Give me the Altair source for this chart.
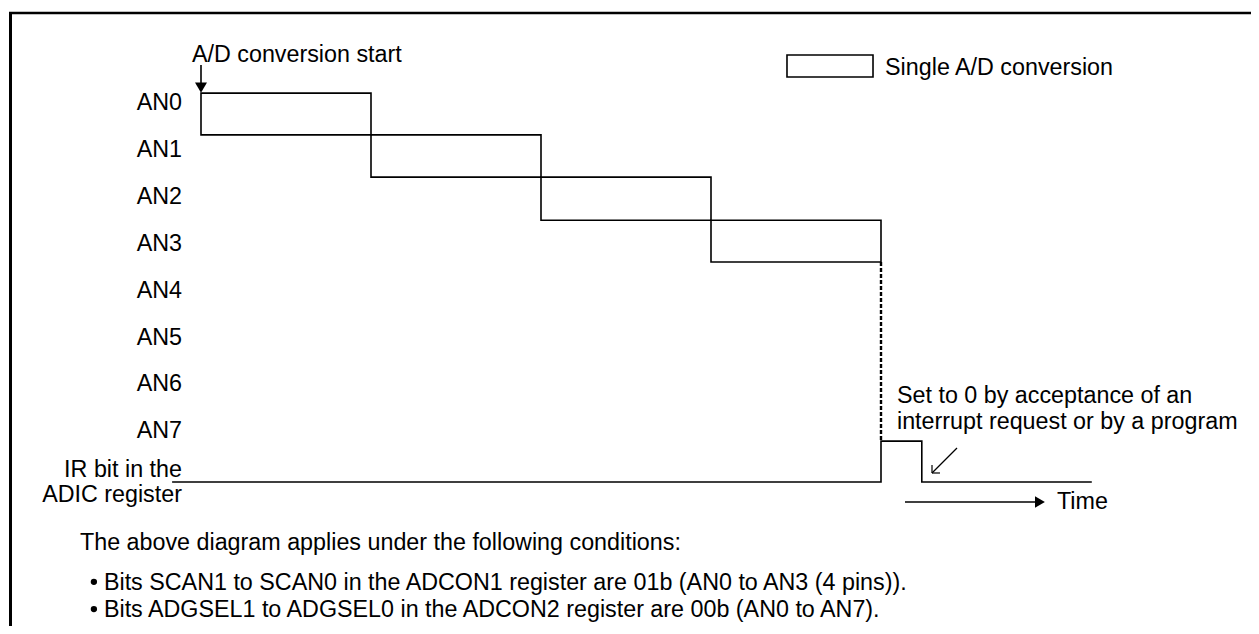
import altair as alt
import pandas as pd

# ---------------- data ----------------
channels = ["AN0", "AN1", "AN2", "AN3", "AN4", "AN5", "AN6", "AN7"]
scanned = ["AN0", "AN1", "AN2", "AN3"]
conv_start = [0, 1, 2, 3]          # conversion periods (time units)
conv_end = [1, 2, 3, 4]
stair_top = [-0.21, 0.68, 1.58, 2.50]   # level of each conversion box (row units)
stair_bottom = [0.68, 1.58, 2.50, 3.39]
ir_label = ["IR bit in the", "ADIC register"]
ir_times = [-0.17, 4.0, 4.0, 4.24, 4.24, 5.24]
ir_levels = [8.08, 8.08, 7.21, 7.21, 8.08, 8.08]
start_label = "A/D conversion start"
legend_label = "Single A/D conversion"
note_lines = ["Set to 0 by acceptance of an", "interrupt request or by a program"]
time_label = "Time"
conditions_title = "The above diagram applies under the following conditions:"
conditions = [
    "Bits SCAN1 to SCAN0 in the ADCON1 register are 01b (AN0 to AN3 (4 pins)).",
    "Bits ADGSEL1 to ADGSEL0 in the ADCON2 register are 00b (AN0 to AN7).",
]

# ---------------- scales ----------------
W, H = 1243, 618
T0, PT = 193.0, 170.0     # chart px of t=0, px per time unit
R0, PR = 95.0, 46.9       # chart px of row 0, px per row
xs = alt.Scale(domain=[-T0 / PT, (W - T0) / PT], nice=False, zero=False)
ys = alt.Scale(domain=[-R0 / PR, (H - R0) / PR], nice=False, zero=False, reverse=True)
FONT = "Liberation Sans"
FS = 23.3
LW = 1.6


def X(f="t"):
    return alt.X(f"{f}:Q", scale=xs, axis=None)


def Y(f="r"):
    return alt.Y(f"{f}:Q", scale=ys, axis=None)


def txt_layer(df, align="left"):
    return alt.Chart(df).mark_text(align=align, baseline="middle", font=FONT,
                                   fontSize=FS, color="black").encode(
        x=X("t"), y=Y("r"), text="txt:N")


# staircase of conversions
df_st = pd.DataFrame({"ch": scanned, "t": conv_start, "t2": conv_end,
                      "r": stair_top, "r2": stair_bottom})
stairs = alt.Chart(df_st).mark_rect(fillOpacity=0, stroke="black", strokeWidth=LW).encode(
    x=X("t"), x2="t2:Q", y=Y("r"), y2="r2:Q")

# channel labels
df_lab = pd.DataFrame({"txt": channels, "t": [-0.112] * len(channels),
                       "r": list(range(len(channels)))})
df_lab = pd.concat([df_lab, pd.DataFrame({"txt": ir_label, "t": [-0.112, -0.112],
                                          "r": [7.83, 8.36]})], ignore_index=True)
labels = txt_layer(df_lab, align="right")

# IR bit signal
df_ir = pd.DataFrame({"t": ir_times, "r": ir_levels, "i": list(range(len(ir_times)))})
ir = alt.Chart(df_ir).mark_line(color="black", strokeWidth=LW, strokeJoin="miter").encode(
    x=X("t"), y=Y("r"), order="i:Q")

# dashed link from end of last conversion to IR rise
df_dot = pd.DataFrame({"t": [4.0], "r": [3.39], "r2": [7.21]})
dotted = alt.Chart(df_dot).mark_rule(color="black", strokeWidth=2.4, strokeDash=[4, 2]).encode(
    x=X("t"), y=Y("r"), y2="r2:Q")

# start arrow
df_sa = pd.DataFrame({"t": [0.0], "r": [-0.81], "r2": [-0.40]})
start_line = alt.Chart(df_sa).mark_rule(color="black", strokeWidth=LW).encode(
    x=X("t"), y=Y("r"), y2="r2:Q")
df_sh = pd.DataFrame({"t": [0.0], "r": [-0.328]})
start_head = alt.Chart(df_sh).mark_point(shape="triangle-down", filled=True, size=144,
                                         color="black", opacity=1).encode(x=X("t"), y=Y("r"))
start_txt = txt_layer(pd.DataFrame({"t": [-0.053], "r": [-1.023], "txt": [start_label]}))

# legend
df_lg = pd.DataFrame({"t": [3.447], "t2": [3.953], "r": [-1.023], "r2": [-0.554]})
leg_box = alt.Chart(df_lg).mark_rect(fillOpacity=0, stroke="black", strokeWidth=LW).encode(
    x=X("t"), x2="t2:Q", y=Y("r"), y2="r2:Q")
leg_txt = txt_layer(pd.DataFrame({"t": [4.024], "r": [-0.746], "txt": [legend_label]}))

# note
note = txt_layer(pd.DataFrame({"t": [4.094, 4.094], "r": [6.247, 6.802], "txt": note_lines}))

# small open arrow pointing at the IR fall
df_arr = pd.DataFrame({
    "seg": ["a", "a", "b", "b", "c", "c"],
    "t": [4.447, 4.30, 4.30, 4.30, 4.30, 4.347],
    "r": [7.356, 7.889, 7.889, 7.719, 7.889, 7.889],
    "i": [0, 1, 0, 1, 0, 1],
})
small_arrow = alt.Chart(df_arr).mark_line(color="black", strokeWidth=1.2).encode(
    x=X("t"), y=Y("r"), detail="seg:N", order="i:Q")

# time arrow
df_ta = pd.DataFrame({"t": [4.141], "t2": [4.91], "r": [8.507]})
time_line = alt.Chart(df_ta).mark_rule(color="black", strokeWidth=LW).encode(
    x=X("t"), x2="t2:Q", y=Y("r"))
df_th = pd.DataFrame({"t": [4.935], "r": [8.507]})
time_head = alt.Chart(df_th).mark_point(shape="triangle-right", filled=True, size=130,
                                        color="black", opacity=1).encode(x=X("t"), y=Y("r"))
time_txt = txt_layer(pd.DataFrame({"t": [5.035], "r": [8.507], "txt": [time_label]}))

# conditions
cond = txt_layer(pd.DataFrame({"t": [-0.712, -0.571, -0.571], "r": [9.382, 10.24, 10.82],
                               "txt": [conditions_title] + conditions}))
df_b = pd.DataFrame({"t": [-0.63, -0.63], "r": [10.21, 10.79]})
bullets = alt.Chart(df_b).mark_circle(size=40, color="black", opacity=1).encode(
    x=X("t"), y=Y("r"))

# frame (top and left edges)
top_border = alt.Chart(df_dot).mark_rule(color="black", strokeWidth=2.5).encode(
    x=alt.value(1), x2=alt.value(W), y=alt.value(5))
left_border = alt.Chart(df_dot).mark_rule(color="black", strokeWidth=3).encode(
    x=alt.value(2.5), y=alt.value(4), y2=alt.value(H))

chart = alt.layer(
    stairs, labels, ir, dotted, start_line, start_head, start_txt, leg_box, leg_txt,
    note, small_arrow, time_line, time_head, time_txt, cond, bullets,
    top_border, left_border,
).properties(
    width=W, height=H, padding=0, autosize=alt.AutoSizeParams(type="none"),
    background="white",
).configure_view(stroke=None)

chart.save("out.html", embed_options={"renderer": "svg", "actions": False})
